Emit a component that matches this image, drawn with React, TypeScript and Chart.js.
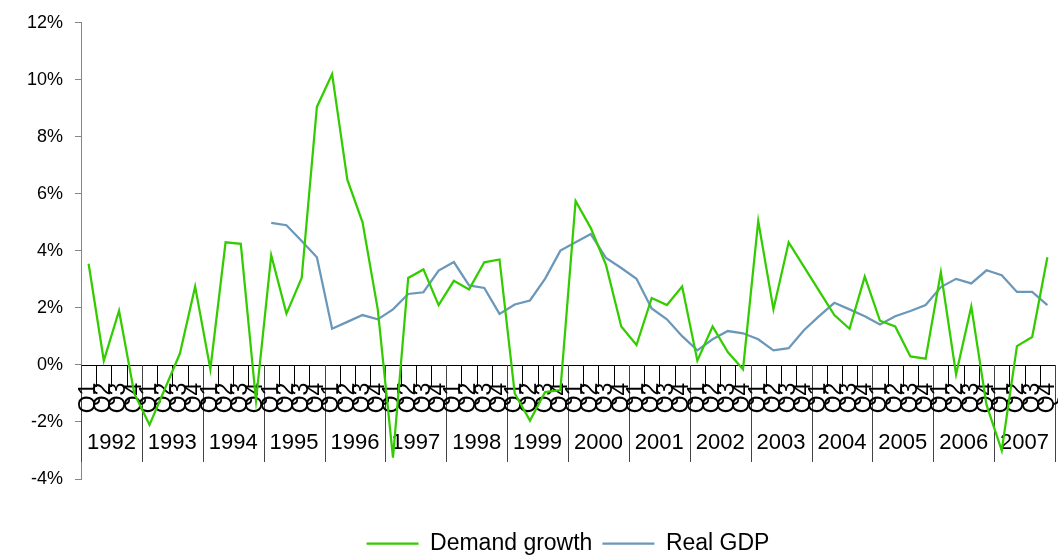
import React, { useEffect, useRef } from "react";
import { Chart, registerables } from "chart.js";

Chart.register(...registerables);

const years = ["1992", "1993", "1994", "1995", "1996", "1997", "1998", "1999", "2000", "2001", "2002", "2003", "2004", "2005", "2006", "2007"];
const quarters = ["Q1", "Q2", "Q3", "Q4"];

const demandGrowth = [
  3.55, 0.15, 1.9, -1.0,
  -2.1, -0.85, 0.4, 2.75,
  -0.15, 4.3, 4.25, -1.25,
  3.85, 1.8, 3.05, 9.05,
  10.2, 6.5, 5.0, 1.95,
  -3.25, 3.05, 3.35, 2.1,
  2.95, 2.65, 3.6, 3.7,
  -1.0, -1.95, -0.95, -0.88,
  5.75, 4.8, 3.5, 1.35,
  0.7, 2.35, 2.1, 2.75,
  0.15, 1.35, 0.45, -0.15,
  5.05, 1.95, 4.3, 3.45,
  2.6, 1.75, 1.27, 3.1,
  1.55, 1.35, 0.3, 0.22,
  3.25, -0.33, 2.05, -1.4,
  -3.0, 0.66, 0.98, 3.78,
];

const realGDP = [
  null, null, null, null,
  null, null, null, null,
  null, null, null, null,
  4.98, 4.9, 4.35, 3.78,
  1.27, 1.51, 1.75, 1.6,
  1.95, 2.49, 2.55, 3.31,
  3.61, 2.79, 2.7, 1.79,
  2.12, 2.26, 3.03, 4.01,
  4.3, 4.59, 3.75, 3.4,
  3.02, 1.98, 1.6, 1.01,
  0.51, 0.9, 1.19, 1.11,
  0.9, 0.51, 0.59, 1.22,
  1.71, 2.18, 1.95, 1.71,
  1.42, 1.71, 1.89, 2.1,
  2.73, 3.02, 2.86, 3.32,
  3.15, 2.56, 2.56, 2.1,
];

const yMin = -4;
const yMax = 12;
const yStep = 2;

const seriesNames = ["Demand growth", "Real GDP"];
const seriesColors = ["#33CC00", "#6B97B9"];

const FONT = "'Liberation Sans', Arial, Helvetica, sans-serif";

const labels: string[] = [];
years.forEach((y) => quarters.forEach((q) => labels.push(y + " " + q)));

const quarterAxisPlugin = {
  id: "quarterAxis",
  beforeDatasetsDraw(chart: any) {
    const { ctx, chartArea, scales } = chart;
    const xs = scales.x;
    const ys = scales.y;
    const y0 = Math.round(ys.getPixelForValue(0));
    const n = labels.length;
    const left = chartArea.left;
    const right = chartArea.right;
    const w = (right - left) / n;
    ctx.save();
    ctx.strokeStyle = "#000";
    ctx.lineWidth = 1;
    ctx.beginPath();
    ctx.moveTo(left, y0 + 0.5);
    ctx.lineTo(right, y0 + 0.5);
    ctx.stroke();
    for (let k = 0; k <= n; k++) {
      const xx = Math.round(left + k * w) + 0.5;
      const isYear = k % 4 === 0;
      ctx.strokeStyle = isYear ? "#444" : "#000";
      ctx.beginPath();
      ctx.moveTo(xx, y0);
      ctx.lineTo(xx, y0 + (isYear ? 97 : 22));
      ctx.stroke();
    }
    ctx.fillStyle = "#000";
    ctx.font = "23px " + FONT;
    ctx.textAlign = "center";
    ctx.textBaseline = "middle";
    for (let i = 0; i < n; i++) {
      const cx = xs.getPixelForValue(i);
      ctx.save();
      ctx.translate(cx, y0 + 33);
      ctx.rotate(-Math.PI / 2);
      ctx.fillText(quarters[i % 4], 0, 0);
      ctx.restore();
    }
    ctx.font = "22px " + FONT;
    years.forEach((yr, j) => {
      const cx = (xs.getPixelForValue(j * 4) + xs.getPixelForValue(j * 4 + 3)) / 2;
      ctx.fillText(yr, cx, y0 + 78);
    });
    ctx.restore();
  },
};

export default function App() {
  const canvasRef = useRef<HTMLCanvasElement | null>(null);

  useEffect(() => {
    if (!canvasRef.current) return;
    Chart.defaults.font.family = FONT;
    const chart = new Chart(canvasRef.current, {
      type: "line",
      data: {
        labels,
        datasets: [
          {
            label: seriesNames[0],
            data: demandGrowth,
            borderColor: seriesColors[0],
            backgroundColor: seriesColors[0],
            borderWidth: 2.25,
            pointRadius: 0,
            tension: 0,
          },
          {
            label: seriesNames[1],
            data: realGDP,
            borderColor: seriesColors[1],
            backgroundColor: seriesColors[1],
            borderWidth: 2.25,
            pointRadius: 0,
            tension: 0,
            spanGaps: false,
          },
        ],
      },
      options: {
        animation: false,
        responsive: true,
        maintainAspectRatio: false,
        layout: { padding: { top: 21, right: 3, bottom: -8, left: 0 } },
        plugins: {
          tooltip: { enabled: false },
          legend: {
            position: "bottom",
            fullSize: false,
            labels: {
              usePointStyle: true,
              pointStyle: "line",
              pointStyleWidth: 52,
              padding: 10,
              color: "#000",
              font: { size: 23, family: FONT },
            },
          },
        },
        scales: {
          x: {
            type: "category",
            offset: true,
            grid: { display: false },
            border: { display: false },
            ticks: { display: false },
            afterFit: (scale: any) => {
              scale.height = 43;
            },
          },
          y: {
            min: yMin,
            max: yMax,
            ticks: {
              stepSize: yStep,
              padding: 12,
              color: "#000",
              font: { size: 18, family: FONT },
              callback: (v: any) => v + "%",
            },
            grid: {
              display: true,
              drawOnChartArea: false,
              drawTicks: true,
              tickLength: 6,
              color: "#868686",
            },
            border: { display: true, color: "#868686", width: 1 },
            afterFit: (scale: any) => {
              scale.width = 81;
            },
          },
        },
      },
      plugins: [quarterAxisPlugin],
    });
    return () => chart.destroy();
  }, []);

  return (
    <div style={{ position: "absolute", left: 0, top: 0, width: 1058, height: 557 }}>
      <canvas ref={canvasRef} />
    </div>
  );
}
